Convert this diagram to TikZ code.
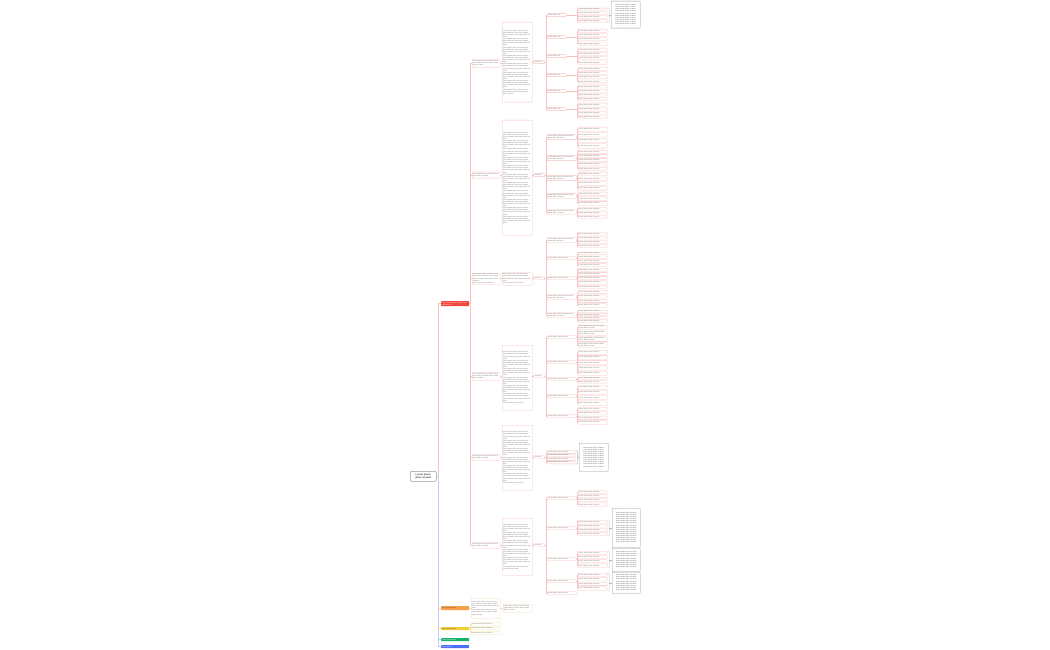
\documentclass[tikz,border=0pt]{standalone}
\usepackage{fontspec}
\setmainfont{Liberation Sans}
\definecolor{rd}{HTML}{F2453D}
\definecolor{rb}{HTML}{F7C0BD}
\definecolor{rl}{HTML}{F8C2BF}
\definecolor{og}{HTML}{F7A04B}
\definecolor{ob}{HTML}{F9D6B4}
\definecolor{yl}{HTML}{F2CD34}
\definecolor{yb}{HTML}{F5E4A0}
\definecolor{gn}{HTML}{14B36B}
\definecolor{bl}{HTML}{4D6EF5}
\definecolor{lv}{HTML}{C3CCF8}
\definecolor{txt}{HTML}{707070}
\definecolor{cg}{HTML}{9A9A9A}
\definecolor{cl}{HTML}{B5B5B5}
\newcount\fillc
\newcount\fillm
\newcommand\F[1]{\fillc=0 \fillm=0 \loop\ifnum\fillc<#1 \advance\fillc by 1 \advance\fillm by 1 lorem ipsum dolor sit amet \ifnum\fillm=4 \fillm=0 \par\fi\repeat}
\newcommand\bx[7]{\pgfmathsetmacro\bxw{#5-(#3)}\pgfmathsetmacro\bxh{#6-(#4)}\pgfmathsetmacro\bxt{#5-(#3)-1.6}%
\node[#1,anchor=north west,minimum width=\bxw pt,minimum height=\bxh pt,text width=\bxt pt] (#2) at (#3,#4) {#7};}
\newcommand\bxa[6]{\pgfmathtruncatemacro\bxn{max(1,(((#6)-(#4)-0.8)/2.1+0.3)*ifthenelse((#6)-(#4)>12,0.82,1))}\bx{#1}{#2}{#3}{#4}{#5}{#6}{\F{\bxn}}}
\newcommand\items[5]{%
 \pgfmathsetmacro\ih{((#4)-(#3)-((#5)-1)*1.2)/(#5)}%
 \foreach \k in {1,...,#5}{%
  \pgfmathsetmacro\iy{#3+(\k-1)*(\ih+1.2)}%
  \pgfmathsetmacro\iyb{\iy+\ih}%
  \bxa{rbox}{#1-\k}{578}{\iy}{607}{\iyb}%
  \draw[rconn] (#2.east) -- (#2.east -| bus5) |- (#1-\k.west);
 }}
\newcommand\lf[5]{\bxa{rbox}{#1}{547}{#3}{#5}{#4}\draw[rconn] (#2.east) -- (#2.east -| bus4) |- (#1.west);}
\newcommand\lft[6]{\bx{rbox}{#1}{547}{#3}{#5}{#4}{#6}\draw[rconn] (#2.east) -- (#2.east -| bus4) |- (#1.west);}
\newcommand\brk[4]{%
 \draw[cconn] ([xshift=0.4pt]#1-1.north east) -| (#4 |- #3.west) |- ([xshift=0.4pt]#1-#2.south east);
 \draw[cconn] (#3.west -| #4) -- (#3.west);}
\tikzset{
 base/.style={font=\fontsize{1.7}{2.1}\selectfont, inner xsep=0.8pt, inner ysep=0.4pt, line width=0.3pt, align=left, text=txt, rounded corners=0.4pt},
 rbox/.style={base, draw=rb, fill=white},
 obox/.style={base, draw=ob, fill=white},
 ybox/.style={base, draw=yb, fill=white},
 callout/.style={base, draw=cg, fill=white, align=center, line width=0.35pt, text=black!65},
 lone/.style={base, fill=#1, draw=none, text=white, font=\fontsize{1.8}{2.2}\selectfont, rounded corners=0.6pt},
 rootbox/.style={base, draw=cg, fill=white, line width=0.5pt, rounded corners=1pt, align=center, text=black!80, font=\fontsize{2.4}{2.9}\selectfont},
 rconn/.style={draw=rl, line width=0.35pt},
 oconn/.style={draw=ob, line width=0.4pt},
 yconn/.style={draw=yb, line width=0.4pt},
 gconn/.style={draw=lv, line width=0.5pt},
 cconn/.style={draw=cl, line width=0.3pt, rounded corners=0.8pt},
}
\begin{document}
\begin{tikzpicture}[x=1pt,y=-1pt]
\fill[white] (0,0) rectangle (1050,650);
\useasboundingbox (0,0) rectangle (1050,650);
\coordinate (bus1) at (438.5,0);
\coordinate (bus2) at (470.5,0);
\coordinate (bus4) at (545.8,0);
\coordinate (bus5) at (577,0);
\coordinate (brA) at (609.3,0);
\coordinate (brE) at (577.6,0);
% root and main branches
\bx{rootbox}{root}{410}{471}{436}{481}{\textbf{Lorem ipsum}\\ \textbf{dolor sit amet}}
\bx{lone=rd}{R1}{441}{301}{469}{306}{lorem ipsum dolor sit amet consectetur elit}
\bx{lone=og}{O1}{441}{606}{469}{610}{\color{black!70}lorem ipsum dolor}
\bx{lone=yl}{Y1}{441}{627}{469}{630}{\color{black!70}lorem ipsum dolor}
\bx{lone=gn}{G1}{441}{638}{469}{641}{lorem ipsum dolor}
\bx{lone=bl}{B1}{441}{645}{469}{648}{lorem ipsum}
\draw[rconn] (root.east) -- (root.east -| bus1) |- (R1.west);
\draw[oconn] (root.east) -- (root.east -| bus1) |- (O1.west);
\draw[yconn] (root.east) -- (root.east -| bus1) |- (Y1.west);
\draw[gconn] (root.east) -- (root.east -| bus1) |- (G1.west);
\draw[gconn] (root.east) -- (root.east -| bus1) |- (B1.west);
% red level 2
\bxa{rbox}{A2}{472}{59}{500}{67}
\bxa{rbox}{B2}{472}{172}{500}{178}
\bxa{rbox}{C2}{472}{273}{500}{284}
\bxa{rbox}{D2}{472}{372}{500}{380}
\bxa{rbox}{E2}{472}{454}{500}{460}
\bxa{rbox}{F2}{472}{542}{500}{548}
\foreach \n in {A,B,C,D,E,F}{\draw[rconn] (R1.east) -- (R1.east -| bus2) |- (\n2.west);}
% red level 3
\bxa{rbox}{A3}{502}{22}{532}{102}
\bxa{rbox}{B3}{502}{120}{532}{235}
\bxa{rbox}{C3}{502}{272}{532}{285}
\bxa{rbox}{D3}{502}{345}{532}{410}
\bxa{rbox}{E3}{502}{425}{532}{490}
\bxa{rbox}{F3}{502}{518}{532}{575}
\foreach \n in {A,B,C,D,E,F}{\draw[rconn] (\n2.east) -- (\n2.east -| \n3.west);}
% hubs
\bx{rbox}{Ah}{533.5}{60.5}{544.5}{63.5}{lorem ips}
\bx{rbox}{Bh}{533.5}{173.5}{544.5}{176.5}{lorem ips}
\bx{rbox}{Ch}{533.5}{276.5}{544.5}{279.5}{lorem ips}
\bx{rbox}{Dh}{533.5}{374.5}{544.5}{377.5}{lorem ips}
\bx{rbox}{Eh}{533.5}{455.5}{544.5}{458.5}{lorem ips}
\bx{rbox}{Fh}{533.5}{543.5}{544.5}{546.5}{lorem ips}
\foreach \n in {A,B,C,D,E,F}{\draw[rconn] (\n h.west -| \n3.east) -- (\n h.west);}
% group A
\lft{A4a}{Ah}{13.5}{16.5}{566}{lorem ipsum dol}
\lft{A4b}{Ah}{35.5}{38.5}{566}{lorem ipsum dol}
\lft{A4c}{Ah}{54.5}{57.5}{566}{lorem ipsum dol}
\lft{A4d}{Ah}{73.5}{76.5}{566}{lorem ipsum dol}
\lft{A4e}{Ah}{89.5}{92.5}{566}{lorem ipsum dol}
\lft{A4f}{Ah}{107.5}{110.5}{566}{lorem ipsum dol}
\items{A5a}{A4a}{8}{22}{4}
\items{A5b}{A4b}{29}{45}{4}
\items{A5c}{A4c}{48}{64}{4}
\items{A5d}{A4d}{67}{83}{4}
\items{A5e}{A4e}{85}{100}{4}
\items{A5f}{A4f}{103}{118}{4}
\bxa{callout}{CA}{611}{1}{640}{28}
\brk{A5a}{4}{CA}{brA}
% group B
\lf{B4a}{Bh}{134.5}{139.5}{576}
\lf{B4b}{Bh}{155.5}{160.5}{576}
\lf{B4c}{Bh}{175.5}{180.5}{576}
\lf{B4d}{Bh}{193.5}{198.5}{576}
\lf{B4e}{Bh}{209.5}{214.5}{576}
\items{B5a}{B4a}{127}{148}{4}
\items{B5b}{B4b}{150}{170}{5}
\items{B5c}{B4c}{172}{190}{4}
\items{B5d}{B4d}{192}{205}{3}
\items{B5e}{B4e}{207}{218}{3}
% group C
\lf{C4a}{Ch}{237.5}{242.5}{576}
\lf{C4b}{Ch}{256.5}{259.5}{576}
\lf{C4c}{Ch}{276.5}{279.5}{576}
\lf{C4d}{Ch}{294.5}{299.5}{576}
\lf{C4e}{Ch}{312.5}{317.5}{576}
\items{C5a}{C4a}{232}{247}{4}
\items{C5b}{C4b}{252}{266}{4}
\items{C5c}{C4c}{268}{288}{5}
\items{C5d}{C4d}{290}{307}{4}
\items{C5e}{C4e}{310}{322}{4}
% group D
\lf{D4a}{Dh}{335.5}{338.5}{576}
\lf{D4b}{Dh}{360.5}{363.5}{576}
\lf{D4c}{Dh}{377.5}{380.5}{576}
\lf{D4d}{Dh}{394.5}{397.5}{576}
\lf{D4e}{Dh}{414.5}{417.5}{576}
\items{D5a}{D4a}{325}{347}{4}
\items{D5b}{D4b}{350}{375}{5}
\items{D5c}{D4c}{377}{383}{2}
\items{D5d}{D4d}{385}{405}{4}
\items{D5e}{D4e}{407}{424}{4}
% group E
\lf{E4-1}{Eh}{450.5}{453.2}{575}
\lf{E4-2}{Eh}{454}{456.7}{575}
\lf{E4-3}{Eh}{457.5}{460.2}{575}
\lf{E4-4}{Eh}{461}{463.7}{575}
\bxa{callout}{CE}{579}{443}{608}{471}
\brk{E4}{4}{CE}{brE}
% group F
\lf{F4a}{Fh}{496.5}{499.5}{576}
\lf{F4b}{Fh}{526.5}{529.5}{576}
\lf{F4c}{Fh}{557.5}{560.5}{576}
\lf{F4d}{Fh}{579.5}{582.5}{576}
\lf{F4e}{Fh}{591.5}{594.5}{576}
\items{F5a}{F4a}{490}{506}{4}
\items{F5b}{F4b}{520}{535}{4}
\items{F5c}{F4c}{551}{567}{4}
\items{F5d}{F4d}{573}{590}{4}
\bxa{callout}{CF2}{612}{508}{640}{547}
\bxa{callout}{CF3}{612}{548}{640}{571}
\bxa{callout}{CF4}{612}{572}{640}{593}
\brk{F5b}{4}{CF2}{brA}
\brk{F5c}{4}{CF3}{brA}
\brk{F5d}{4}{CF4}{brA}
% orange branch
\bxa{obox}{OA}{471}{598}{500}{618}
\bxa{obox}{OB}{503}{604}{532}{612}
\draw[oconn] (O1.east) -- (O1.east -| bus2) |- (OA.west);
\draw[oconn] (OA.east) -- (OA.east -| OB.west);
% yellow branch
\bxa{ybox}{YA}{471}{622}{500}{626}
\bxa{ybox}{YB}{471}{627}{500}{629.5}
\bxa{ybox}{YC}{471}{631}{500}{634}
\foreach \n in {YA,YB,YC}{\draw[yconn] (Y1.east) -- (Y1.east -| bus2) |- (\n.west);}
\end{tikzpicture}
\end{document}
